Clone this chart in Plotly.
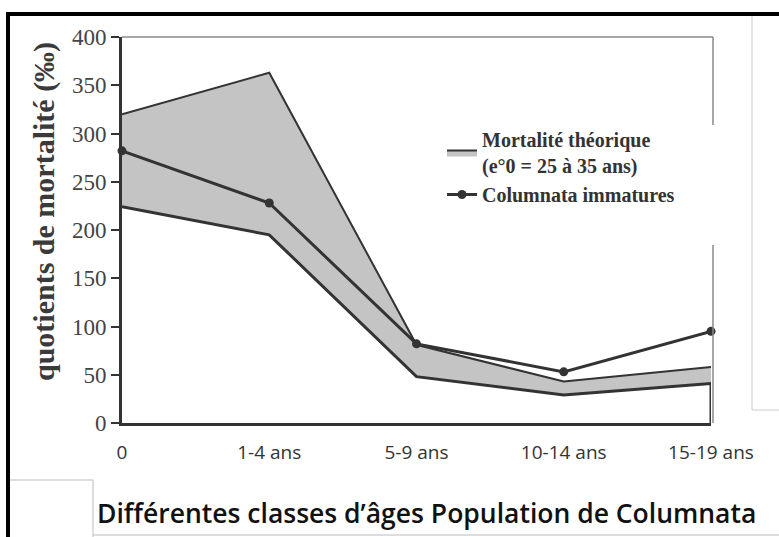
import plotly.graph_objects as go

categories = ["0", "1-4 ans", "5-9 ans", "10-14 ans", "15-19 ans"]
theo_low = [224, 195, 48, 29, 41]
theo_high = [320, 363, 81, 43, 58]
columnata = [282, 228, 82, 53, 95]
y_ticks = [0, 50, 100, 150, 200, 250, 300, 350, 400]

W, H = 779, 537
L, R, T, B = 122, 68, 37, 114
pw, ph = W - L - R, H - T - B

def px(x):
    return (x - L) / pw

def py(y):
    return (H - B - y) / ph

dark = "#333333"
fig = go.Figure()
fig.add_trace(go.Scatter(x=categories, y=theo_low, mode="lines",
                         line=dict(color=dark, width=3), fill="tozeroy",
                         fillcolor="white", showlegend=False, hoverinfo="skip"))
fig.add_trace(go.Scatter(x=categories, y=theo_high, mode="lines",
                         line=dict(color=dark, width=2), fill="tonexty",
                         fillcolor="#c4c4c4",
                         name="<b>Mortalité théorique<br>(e°0 = 25 à 35 ans)</b>"))
fig.add_trace(go.Scatter(x=categories, y=columnata, mode="lines+markers",
                         line=dict(color=dark, width=3), cliponaxis=False,
                         marker=dict(color=dark, size=9),
                         name="<b>Columnata immatures</b>"))

shapes = [
    dict(type="line", xref="x", yref="y", x0=categories[-1], x1=categories[-1],
         y0=0, y1=theo_low[-1], line=dict(color=dark, width=3)),
    dict(type="line", xref="paper", yref="paper", x0=0, x1=px(713), y0=1, y1=1,
         line=dict(color="#888888", width=1.5)),
    dict(type="line", xref="paper", yref="paper", x0=px(713), x1=px(713), y0=1, y1=py(125),
         line=dict(color="#888888", width=1.5)),
    dict(type="line", xref="paper", yref="paper", x0=px(713), x1=px(713), y0=py(245), y1=0,
         line=dict(color="#888888", width=1.5)),
    dict(type="line", xref="paper", yref="paper", x0=px(8), x1=px(779), y0=py(14), y1=py(14),
         line=dict(color="black", width=4)),
    dict(type="line", xref="paper", yref="paper", x0=px(8), x1=px(8), y0=py(12), y1=py(537),
         line=dict(color="black", width=4)),
    dict(type="line", xref="paper", yref="paper", x0=px(752), x1=px(752), y0=py(16), y1=py(410),
         line=dict(color="#cccccc", width=1)),
    dict(type="line", xref="paper", yref="paper", x0=px(752), x1=px(779), y0=py(410), y1=py(410),
         line=dict(color="#cccccc", width=1)),
    dict(type="line", xref="paper", yref="paper", x0=px(10), x1=px(93), y0=py(480), y1=py(480),
         line=dict(color="#bbbbbb", width=1)),
    dict(type="line", xref="paper", yref="paper", x0=px(93), x1=px(93), y0=py(480), y1=py(537),
         line=dict(color="#bbbbbb", width=1)),
    dict(type="line", xref="paper", yref="paper", x0=px(93), x1=px(779), y0=py(535), y1=py(535),
         line=dict(color="#bbbbbb", width=1)),
]

annotations = [
    dict(text="<b>quotients de mortalité (‰)</b>", xref="paper", yref="paper",
         x=px(44), y=py(212), textangle=-90, showarrow=False,
         font=dict(family="Liberation Serif", size=30, color="#3a3a3a"),
         xanchor="center", yanchor="middle"),
    dict(text="Différentes classes d’âges Population de Columnata", xref="paper", yref="paper",
         x=px(426), y=py(513), showarrow=False,
         font=dict(family="Open Sans", size=26.5, color="#111111", weight=600),
         xanchor="center", yanchor="middle"),
]

fig.update_layout(
    width=W, height=H,
    margin=dict(l=L, r=R, t=T, b=B),
    paper_bgcolor="white", plot_bgcolor="white",
    showlegend=True,
    legend=dict(x=px(442), y=py(120), xanchor="left", yanchor="top",
                bgcolor="rgba(255,255,255,0)", traceorder="normal",
                font=dict(family="Liberation Serif", size=20, color="#333333"),
                tracegroupgap=4),
    shapes=shapes, annotations=annotations,
    xaxis=dict(type="category", range=[0, 4], showgrid=False, showline=True,
               linecolor=dark, linewidth=3, ticks="", zeroline=False,
               ticklabelstandoff=10,
               tickfont=dict(family="Open Sans", size=19, color="#333333")),
    yaxis=dict(range=[0, 400], tickvals=y_ticks, showgrid=False, showline=True,
               linecolor=dark, linewidth=3, ticks="outside", ticklen=8, tickwidth=2,
               tickcolor=dark, zeroline=False,
               tickfont=dict(family="Liberation Serif", size=23, color="#444444")),
)

fig.write_html("out.html", config={"displayModeBar": False},
               post_script="document.body.style.margin='0px';")
